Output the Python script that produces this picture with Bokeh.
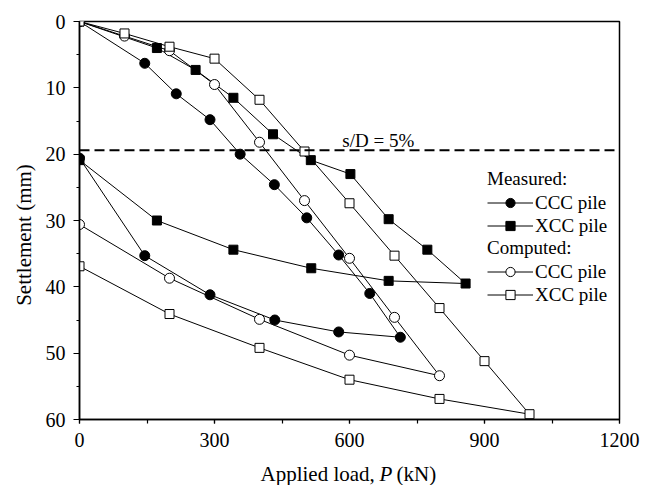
from math import pi
from bokeh.plotting import figure
from bokeh.layouts import row, column
from bokeh.models import Range1d, SingleIntervalTicker, Legend, LegendItem, Span, Label
from bokeh.core.properties import value
from bokeh.embed import file_html
from bokeh.resources import INLINE

# ---- data (load P in kN, settlement in mm); loading then unloading branch ----
meas_ccc_x = [0, 145, 215, 290, 357, 433, 505, 576, 645, 713, 576, 434, 290, 145, 0]
meas_ccc_y = [0, 6.3, 10.9, 14.8, 20.0, 24.6, 29.6, 35.2, 41.0, 47.6, 46.8, 45.0, 41.2, 35.3, 20.6]

meas_xcc_x = [0, 172, 258, 342, 430, 514, 602, 687, 773, 858, 687, 515, 342, 172, 0]
meas_xcc_y = [0, 4.0, 7.3, 11.5, 17.0, 20.9, 23.0, 29.8, 34.4, 39.5, 39.1, 37.2, 34.4, 30.0, 20.9]

comp_ccc_x = [0, 100, 200, 300, 400, 500, 600, 700, 800, 600, 400, 200, 0]
comp_ccc_y = [0, 2.2, 4.4, 9.5, 18.2, 27.0, 35.7, 44.6, 53.4, 50.3, 44.9, 38.7, 30.6]

comp_xcc_x = [0, 100, 200, 300, 400, 500, 600, 700, 800, 900, 1000, 800, 600, 400, 200, 0]
comp_xcc_y = [0, 1.8, 3.8, 5.6, 11.8, 19.6, 27.4, 35.3, 43.2, 51.2, 59.2, 56.9, 54.0, 49.2, 44.1, 36.9]

limit_settlement = 19.4   # s/D = 5%
x_ticks_interval = 300
y_ticks_interval = 10

FONT = "Liberation Serif"

# ---------------- main plot ----------------
p = figure(width=611, height=462, output_backend="svg", toolbar_location=None,
           x_range=Range1d(0, 1200), y_range=Range1d(60, 0),
           min_border_left=39, min_border_right=32, min_border_top=21, min_border_bottom=43,
           background_fill_color="white", border_fill_color="white")
p.grid.visible = False
p.outline_line_color = "black"
p.outline_line_width = 1.5

p.xaxis.ticker = SingleIntervalTicker(interval=x_ticks_interval, num_minor_ticks=2)
p.yaxis.ticker = SingleIntervalTicker(interval=y_ticks_interval, num_minor_ticks=2)
for ax in (p.xaxis[0], p.yaxis[0]):
    ax.axis_line_width = 1.5
    ax.axis_line_color = "black"
    ax.major_tick_line_color = "black"
    ax.minor_tick_line_color = "black"
    ax.major_tick_line_width = 1.2
    ax.minor_tick_line_width = 1.2
    ax.major_tick_in = 0
    ax.minor_tick_in = 0
    ax.major_label_text_font = FONT
    ax.major_label_text_font_size = "20px"
    ax.major_label_text_color = "black"
p.xaxis.major_tick_out = 4
p.xaxis.minor_tick_out = 4
p.xaxis.major_label_standoff = 9
p.yaxis.major_tick_out = 6
p.yaxis.minor_tick_out = 3
p.yaxis.major_label_standoff = 8

# s/D = 5% line
p.add_layout(Span(location=limit_settlement, dimension="width", line_color="black",
                  line_width=2, line_dash="10 5"))
p.add_layout(Label(x=584, y=18.0, text="s/D = 5%", text_font=FONT, text_font_size="19px",
                   text_baseline="alphabetic", text_color="black"))

def series(xs, ys, marker, filled):
    ln = p.line(xs, ys, line_color="black", line_width=1)
    sc = p.scatter(xs, ys, marker=marker, size=10 if marker == "circle" else 9,
                   line_color="black", line_width=1,
                   fill_color="black" if filled else "white")
    return ln, sc

r_mc = series(meas_ccc_x, meas_ccc_y, "circle", True)
r_mx = series(meas_xcc_x, meas_xcc_y, "square", True)
r_cc = series(comp_ccc_x, comp_ccc_y, "circle", False)
r_cx = series(comp_xcc_x, comp_xcc_y, "square", False)

def make_legend(title, items, loc):
    return Legend(items=items, title=title, location=loc,
                  border_line_color=None, background_fill_alpha=0,
                  padding=0, margin=0, spacing=0,
                  glyph_width=46, glyph_height=23, label_height=23, label_standoff=2,
                  label_text_font=FONT, label_text_font_size="19px", label_text_color="black",
                  title_text_font=FONT, title_text_font_size="19px",
                  title_text_font_style="normal", title_text_color="black", title_standoff=1)

leg1 = make_legend("Measured:", [LegendItem(label="CCC pile", renderers=list(r_mc)),
                                 LegendItem(label="XCC pile", renderers=list(r_mx))], (408, 182))
leg2 = make_legend("Computed:", [LegendItem(label="CCC pile", renderers=list(r_cc)),
                                 LegendItem(label="XCC pile", renderers=list(r_cx))], (408, 113))
p.add_layout(leg1)
p.add_layout(leg2)

# ---------------- y-axis title strip ----------------
yfig = figure(width=40, height=485, output_backend="svg", toolbar_location=None,
              x_range=Range1d(0, 40), y_range=Range1d(485, 0),
              x_axis_type=None, y_axis_type=None, min_border=0,
              min_border_left=0, min_border_right=0, min_border_top=0, min_border_bottom=0,
              background_fill_color="white", border_fill_color="white")
yfig.grid.visible = False
yfig.outline_line_color = None
yfig.text(x=[23], y=[234.5], text=["Settlement (mm)"], angle=pi / 2,
          text_align="center", text_baseline="middle",
          text_font=value(FONT), text_font_size="21px", text_color="black")

# ---------------- x-axis title strip (italic P) ----------------
xfig = figure(width=611, height=23, output_backend="svg", toolbar_location=None,
              x_range=p.x_range, y_range=Range1d(23, 0),
              x_axis_type=None, y_axis_type=None, min_border=0,
              min_border_left=39, min_border_right=32, min_border_top=0, min_border_bottom=0,
              background_fill_color="white", border_fill_color="white")
xfig.grid.visible = False
xfig.outline_line_color = None
px_per_kN = 540 / 1200.0
def to_data_x(px_offset):          # pixel offset from the frame centre -> load units
    return 600 + px_offset / px_per_kN
title_y = 11.5
xfig.text(x=[to_data_x(25.3)], y=[title_y], text=["Applied load,"], text_align="right",
          text_baseline="middle", text_font=value(FONT), text_font_size="21px", text_color="black")
xfig.text(x=[to_data_x(30.0)], y=[title_y], text=["P"], text_align="left",
          text_baseline="middle", text_font=value(FONT), text_font_size="21px",
          text_font_style="italic", text_color="black")
xfig.text(x=[to_data_x(47.0)], y=[title_y], text=["(kN)"], text_align="left",
          text_baseline="middle", text_font=value(FONT), text_font_size="21px", text_color="black")

layout = row(yfig, column(p, xfig))
open("out.html", "w").write(file_html(layout, INLINE))
